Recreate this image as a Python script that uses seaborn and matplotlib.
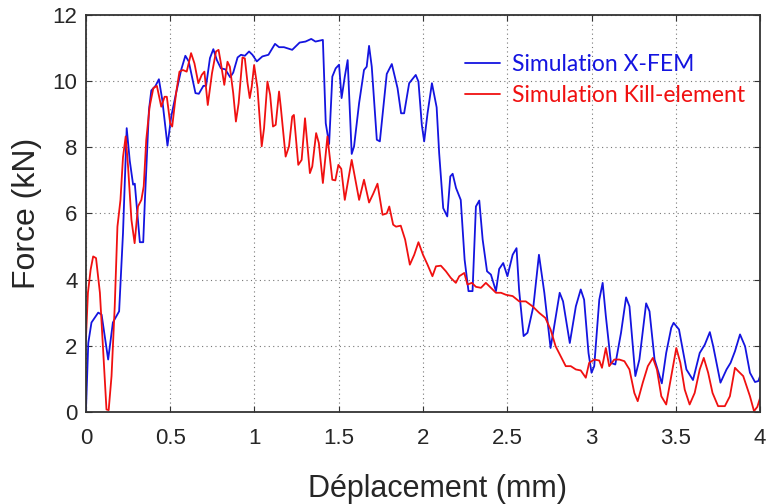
import matplotlib
matplotlib.use('Agg')
import matplotlib.pyplot as plt
import seaborn as sns

# Simulation X-FEM
xfem_x = [0.0, 0.014, 0.033, 0.073, 0.093, 0.132, 0.16, 0.197, 0.22, 0.242, 0.26, 0.28,
          0.29, 0.32, 0.34, 0.35, 0.374, 0.388, 0.413, 0.433, 0.453, 0.484, 0.506, 0.535,
          0.565, 0.59, 0.61, 0.65, 0.67, 0.697, 0.713, 0.736, 0.756, 0.777, 0.801, 0.827,
          0.856, 0.874, 0.9, 0.92, 0.943, 0.968, 0.988, 1.014, 1.047, 1.083, 1.122, 1.146,
          1.175, 1.224, 1.268, 1.303, 1.337, 1.362, 1.406, 1.423, 1.443, 1.462, 1.482,
          1.502, 1.517, 1.536, 1.553, 1.577, 1.591, 1.621, 1.65, 1.666, 1.68, 1.696, 1.726,
          1.744, 1.785, 1.815, 1.849, 1.87, 1.888, 1.918, 1.957, 1.973, 1.993, 2.007, 2.027,
          2.053, 2.081, 2.096, 2.12, 2.144, 2.162, 2.176, 2.196, 2.224, 2.247, 2.27, 2.294,
          2.314, 2.334, 2.354, 2.38, 2.403, 2.433, 2.452, 2.476, 2.501, 2.532, 2.555, 2.57,
          2.597, 2.62, 2.655, 2.688, 2.72, 2.757, 2.777, 2.811, 2.831, 2.871, 2.907, 2.936,
          2.956, 2.982, 3.0, 3.016, 3.046, 3.066, 3.085, 3.115, 3.141, 3.175, 3.205, 3.225,
          3.26, 3.284, 3.324, 3.344, 3.374, 3.417, 3.443, 3.473, 3.487, 3.519, 3.563, 3.602,
          3.642, 3.672, 3.702, 3.722, 3.765, 3.801, 3.825, 3.851, 3.881, 3.911, 3.94, 3.97,
          3.99, 4.0]
xfem_y = [0.0, 2.08, 2.7, 3.0, 2.94, 1.58, 2.7, 3.04, 5.4, 8.58, 7.6, 6.87,
          6.9, 5.13, 5.13, 6.4, 9.13, 9.72, 9.86, 10.06, 9.44, 8.05, 8.93, 9.64,
          10.34, 10.77, 10.6, 9.64, 9.62, 9.86, 9.86, 10.7, 10.97, 10.64, 10.39, 10.36,
          10.12, 10.26, 10.72, 10.8, 10.77, 10.9, 10.8, 10.6, 10.75, 10.8, 11.13, 11.03,
          11.03, 10.95, 11.17, 11.2, 11.28, 11.2, 11.25, 8.73, 8.1, 10.14, 10.39,
          10.5, 9.49, 10.14, 10.64, 7.8, 8.03, 9.34, 10.34, 10.44, 11.07, 10.44, 8.23,
          8.18, 10.22, 10.52, 9.79, 9.03, 9.03, 9.94, 10.19, 9.99, 8.68, 8.18, 9.03,
          9.94, 9.21, 7.82, 6.16, 5.91, 7.12, 7.2, 6.77, 6.41, 4.6, 3.65, 3.65,
          6.21, 6.39, 5.21, 4.25, 4.15, 3.65, 4.32, 4.5, 4.1, 4.75, 4.95, 3.7,
          2.29, 2.39, 3.19, 4.75, 3.6, 1.93, 2.54, 3.6, 3.34, 2.08, 3.19, 3.7,
          3.39, 1.78, 1.18, 1.38, 3.39, 3.9, 2.89, 1.48, 1.43, 2.39, 3.46, 3.19,
          1.08, 1.58, 3.28, 3.04, 1.58, 0.86, 1.78, 2.54, 2.69, 2.49, 1.28, 0.96,
          1.78, 2.03, 2.41, 1.98, 0.88, 1.28, 1.48, 1.83, 2.34, 1.98, 1.18, 0.9,
          0.93, 1.08]

# Simulation Kill-element
kill_x = [0.0, 0.012, 0.028, 0.043, 0.06, 0.083, 0.102, 0.122, 0.135, 0.152, 0.171,
          0.187, 0.205, 0.22, 0.236, 0.25, 0.27, 0.289, 0.309, 0.329, 0.343, 0.358, 0.378,
          0.4, 0.421, 0.447, 0.467, 0.48, 0.5, 0.512, 0.535, 0.555, 0.575, 0.598, 0.624,
          0.644, 0.667, 0.687, 0.703, 0.723, 0.748, 0.772, 0.787, 0.801, 0.821, 0.84,
          0.854, 0.874, 0.89, 0.906, 0.929, 0.943, 0.959, 0.972, 0.984, 0.998, 1.018,
          1.043, 1.057, 1.077, 1.093, 1.11, 1.126, 1.146, 1.156, 1.185, 1.205, 1.224,
          1.234, 1.26, 1.28, 1.3, 1.329, 1.343, 1.366, 1.382, 1.406, 1.433, 1.462, 1.48,
          1.498, 1.515, 1.536, 1.577, 1.597, 1.621, 1.65, 1.68, 1.705, 1.73, 1.76, 1.785,
          1.8, 1.823, 1.84, 1.868, 1.894, 1.922, 1.948, 1.973, 2.0, 2.027, 2.056, 2.077,
          2.106, 2.136, 2.165, 2.195, 2.215, 2.245, 2.264, 2.29, 2.314, 2.344, 2.373,
          2.403, 2.433, 2.463, 2.492, 2.532, 2.571, 2.61, 2.65, 2.69, 2.726, 2.757, 2.787,
          2.817, 2.847, 2.877, 2.907, 2.936, 2.966, 2.986, 3.016, 3.046, 3.062, 3.085,
          3.105, 3.135, 3.165, 3.195, 3.225, 3.254, 3.274, 3.304, 3.334, 3.364, 3.388,
          3.414, 3.443, 3.473, 3.503, 3.527, 3.553, 3.582, 3.612, 3.642, 3.666, 3.692,
          3.718, 3.751, 3.791, 3.821, 3.851, 3.87, 3.9, 3.94, 3.964, 3.984, 4.0]
kill_y = [2.2, 3.6, 4.3, 4.7, 4.65, 3.6, 1.88, 0.07, 0.05, 1.08, 3.19,
          5.6, 6.41, 7.7, 8.33, 7.42, 5.81, 5.1, 6.21, 6.41, 6.82, 8.23, 9.23,
          9.79, 9.86, 9.23, 9.53, 9.53, 8.73, 8.63, 9.64, 10.29, 10.34, 10.29, 10.85,
          10.54, 9.94, 10.19, 10.29, 9.28, 10.24, 10.9, 10.95, 10.54, 9.89, 10.59,
          10.44, 9.64, 8.78, 9.33, 10.72, 10.69, 9.94, 9.49, 9.84, 10.49, 9.79,
          8.03, 8.58, 9.99, 9.59, 8.63, 8.68, 9.69, 9.23, 7.72, 8.03, 8.93,
          8.98, 7.47, 7.62, 8.88, 7.22, 7.42, 8.43, 8.13, 6.92, 8.33, 7.02, 7.0,
          7.47, 7.35, 6.41, 7.62, 7.07, 6.41, 7.02, 6.33, 6.6, 6.9, 5.96, 6.0,
          6.21, 5.66, 5.6, 5.63, 5.21, 4.45, 4.75, 5.13, 4.75, 4.45, 4.1, 4.4,
          4.42, 4.25, 4.05, 3.9, 4.1, 4.2, 3.85, 3.9, 3.78, 3.75, 3.9,
          3.75, 3.6, 3.6, 3.54, 3.5, 3.34, 3.34, 3.19, 2.99, 2.84, 2.49, 1.98,
          1.68, 1.38, 1.38, 1.28, 1.25, 1.03, 1.48, 1.58, 1.55, 1.33, 1.93,
          1.38, 1.58, 1.58, 1.53, 1.28, 0.57, 0.32, 0.88, 1.38, 1.63, 1.28,
          0.47, 0.22, 1.08, 1.93, 1.48, 0.67, 0.22, 0.57, 1.28, 1.63, 1.18,
          0.57, 0.17, 0.17, 0.47, 1.33, 1.23, 1.08, 0.47, 0.02, 0.15, 0.42]

x_ticks = [0, 0.5, 1, 1.5, 2, 2.5, 3, 3.5, 4]
x_tick_labels = ['0', '0.5', '1', '1.5', '2', '2.5', '3', '3.5', '4']
y_ticks = [0, 2, 4, 6, 8, 10, 12]

sns.set_style('white')
plt.rcParams['font.family'] = ['Liberation Sans', 'DejaVu Sans']

fig = plt.figure(figsize=(7.74, 5.04), dpi=100)
ax = fig.add_axes([0.111, 0.183, 0.871, 0.787])

sns.lineplot(x=xfem_x, y=xfem_y, color='#1414e0', linewidth=1.3,
             estimator=None, sort=False, ax=ax, label='Simulation X-FEM')
sns.lineplot(x=kill_x, y=kill_y, color='#f01010', linewidth=1.3,
             estimator=None, sort=False, ax=ax, label='Simulation Kill-element')

ax.set_xlim(0, 4)
ax.set_ylim(0, 12)
ax.set_xticks(x_ticks)
ax.set_xticklabels(x_tick_labels)
ax.set_yticks(y_ticks)

# Grille pointillée
ax.grid(True, linestyle=(0, (1, 3)), color='#777777', linewidth=0.8)

for spine in ax.spines.values():
    spine.set_visible(True)
    spine.set_color('#333333')
    spine.set_linewidth(1.3)

ax.tick_params(axis='both', which='major', direction='in', length=4, width=0.8,
               color='#333333', top=True, right=True, bottom=True, left=True,
               labelsize=16)
ax.tick_params(axis='x', pad=12)
ax.tick_params(axis='y', pad=6)

ax.set_xlabel('Déplacement (mm)', fontsize=22, labelpad=18)
ax.xaxis.label.set_x(0.5215)
ax.set_ylabel('Force (kN)', fontsize=23, labelpad=8)

leg = ax.legend(loc='upper right', bbox_to_anchor=(1.009, 0.955), frameon=False,
                handlelength=1.5, handletextpad=0.55,
                labelspacing=0.45, labelcolor='linecolor',
                prop={'family': ['Lato', 'DejaVu Sans'], 'size': 16.5})

fig.patch.set_facecolor('white')
fig.savefig('out.png', dpi=100, facecolor='white')
